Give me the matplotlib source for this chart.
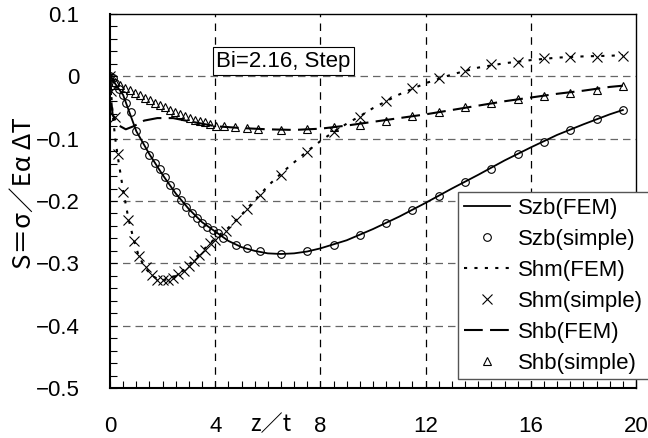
import matplotlib
matplotlib.use('Agg')
import matplotlib.pyplot as plt

plt.rcParams['font.family'] = ['Liberation Sans', 'Noto Sans CJK JP', 'DejaVu Sans']

# Szb: FEM curve and simple-method points
szb_fem_x = [0, 0.5, 1, 1.5, 2, 2.5, 3, 3.5, 4, 4.5, 5, 5.5, 6, 6.5, 7, 7.5, 8,
             9, 10, 11, 12, 13, 14, 15, 16, 17, 18, 19, 19.5]
szb_fem_y = [0, -0.030, -0.088, -0.125, -0.158, -0.188, -0.213, -0.234, -0.249,
             -0.264, -0.274, -0.280, -0.284, -0.285, -0.284, -0.281, -0.276,
             -0.263, -0.245, -0.225, -0.203, -0.180, -0.158, -0.135, -0.114,
             -0.094, -0.077, -0.061, -0.054]
szb_simple_x = [0, 0.1, 0.2, 0.35, 0.5, 0.6, 0.8, 1.0, 1.3, 1.5, 1.7, 1.9, 2.1,
                2.3, 2.5, 2.7, 2.9, 3.1, 3.3, 3.5, 3.7, 3.9, 4.1, 4.3, 4.8, 5.2,
                5.7, 6.5, 7.5, 8.5, 9.5, 10.5, 11.5, 12.5, 13.5, 14.5, 15.5,
                16.5, 17.5, 18.5, 19.5]
szb_simple_y = [0, -0.003, -0.010, -0.020, -0.030, -0.042, -0.057, -0.088,
                -0.110, -0.126, -0.139, -0.149, -0.161, -0.174, -0.186, -0.199,
                -0.209, -0.220, -0.228, -0.235, -0.241, -0.246, -0.251, -0.260,
                -0.271, -0.276, -0.281, -0.285, -0.280, -0.270, -0.254, -0.235,
                -0.215, -0.192, -0.169, -0.148, -0.125, -0.105, -0.086, -0.069,
                -0.054]

# Shm
shm_fem_x = [0, 0.05, 0.1, 0.2, 0.3, 0.5, 0.7, 0.9, 1.1, 1.35, 1.6, 1.9, 2.2,
             2.5, 2.8, 3.1, 3.4, 3.7, 4.0, 4.5, 5, 5.5, 6, 6.5, 7, 7.5, 8, 8.5,
             9, 9.5, 10, 11, 12, 13, 14, 15, 16, 17, 18, 19, 19.5]
shm_fem_y = [0, -0.030, -0.060, -0.100, -0.130, -0.183, -0.228, -0.262, -0.289,
             -0.308, -0.320, -0.327, -0.326, -0.320, -0.311, -0.298, -0.285,
             -0.272, -0.260, -0.243, -0.222, -0.199, -0.176, -0.156, -0.138,
             -0.120, -0.104, -0.089, -0.076, -0.064, -0.051, -0.029, -0.011,
             0.003, 0.014, 0.021, 0.026, 0.030, 0.032, 0.033, 0.034]
shm_simple_x = [0, 0.05, 0.2, 0.3, 0.5, 0.7, 0.9, 1.1, 1.35, 1.6, 1.8, 2.0, 2.2,
                2.4, 2.6, 2.8, 3.0, 3.2, 3.4, 3.6, 3.8, 4.0, 4.4, 4.8, 5.2, 5.7,
                6.5, 7.5, 8.5, 9.5, 10.5, 11.5, 12.5, 13.5, 14.5, 15.5, 16.5,
                17.5, 18.5, 19.5]
shm_simple_y = [0, -0.023, -0.065, -0.125, -0.185, -0.230, -0.264, -0.288,
                -0.306, -0.319, -0.326, -0.327, -0.326, -0.323, -0.317, -0.312,
                -0.304, -0.296, -0.287, -0.278, -0.268, -0.262, -0.248, -0.230,
                -0.213, -0.190, -0.158, -0.121, -0.089, -0.065, -0.039, -0.019,
                -0.003, 0.009, 0.019, 0.023, 0.030, 0.031, 0.031, 0.033]

# Shb
shb_fem_x = [0, 0.05, 0.1, 0.3, 0.6, 0.9, 1.3, 1.8, 2.4, 3, 3.5, 4, 5, 6, 7, 8,
             9, 10, 11, 12, 13, 14, 15, 16, 17, 18, 19, 19.5]
shb_fem_y = [0, -0.040, -0.062, -0.078, -0.085, -0.080, -0.071, -0.067, -0.067,
             -0.072, -0.076, -0.080, -0.083, -0.085, -0.086, -0.084, -0.079,
             -0.073, -0.067, -0.061, -0.054, -0.047, -0.040, -0.034, -0.028,
             -0.023, -0.017, -0.015]
shb_simple_x = [0, 0.19, 0.38, 0.57, 0.76, 0.95, 1.14, 1.33, 1.52, 1.71, 1.9,
                2.09, 2.28, 2.47, 2.66, 2.85, 3.04, 3.23, 3.42, 3.61, 3.8, 4.03,
                4.33, 4.75, 5.2, 5.64, 6.5, 7.5, 8.5, 9.5, 10.5, 11.5, 12.5, 13.5,
                14.5, 15.5, 16.5, 17.5, 18.5, 19.5]
shb_simple_y = [0, -0.009, -0.014, -0.018, -0.022, -0.026, -0.030, -0.034,
                -0.038, -0.042, -0.046, -0.050, -0.054, -0.057, -0.060, -0.064,
                -0.067, -0.070, -0.072, -0.074, -0.077, -0.079, -0.080, -0.082,
                -0.083, -0.084, -0.086, -0.085, -0.082, -0.078, -0.071, -0.064,
                -0.058, -0.050, -0.043, -0.037, -0.032, -0.026, -0.022, -0.015]

xticks = [0, 4, 8, 12, 16, 20]
yticks = [0.1, 0, -0.1, -0.2, -0.3, -0.4, -0.5]
ytick_labels = ['0.1', '0', '\u22120.1', '\u22120.2', '\u22120.3', '\u22120.4', '\u22120.5']

fig = plt.figure(figsize=(6.48, 4.38), dpi=100)
ax = fig.add_axes([110 / 648, 1 - 388 / 438, 526 / 648, 374 / 438])

ax.plot(szb_fem_x, szb_fem_y, color='black', lw=1.3, label='Szb(FEM)')
ax.plot(szb_simple_x, szb_simple_y, ls='none', marker='o', mfc='none', mec='black',
        ms=5.5, mew=0.8, label='Szb(simple)')
ax.plot(shm_fem_x, shm_fem_y, color='black', lw=1.5, ls=(0, (1.5, 3.5)), label='Shm(FEM)')
ax.plot(shm_simple_x, shm_simple_y, ls='none', marker='x', color='black',
        ms=6.5, mew=0.8, label='Shm(simple)')
ax.plot(shb_fem_x, shb_fem_y, color='black', lw=1.5, ls=(0, (9, 3.5)), label='Shb(FEM)')
ax.plot(shb_simple_x, shb_simple_y, ls='none', marker='^', mfc='none', mec='black',
        ms=6, mew=0.8, label='Shb(simple)')

ax.set_xlim(0, 20)
ax.set_ylim(-0.5, 0.1)
ax.set_xticks(xticks)
ax.set_yticks(yticks)
ax.set_yticklabels(ytick_labels)
ax.set_xticks([i * 0.5 for i in range(41)], minor=True)
ax.set_yticks([-0.5 + i * 0.02 for i in range(31)], minor=True)
ax.tick_params(axis='x', which='major', direction='in', length=5, labelsize=16, pad=20)
ax.tick_params(axis='y', which='major', direction='in', length=5, labelsize=16, pad=22)
ax.tick_params(which='minor', direction='in', length=5, width=0.8)

# dashed grid: vertical black, horizontal grey
for xv in xticks[1:-1]:
    ax.axvline(xv, color='black', lw=0.9, ls=(0, (6, 5)), zorder=0)
for yv in yticks[1:-1]:
    ax.axhline(yv, color='#666666', lw=0.9, ls=(0, (6, 4)), zorder=0)

for s in ['left', 'bottom']:
    ax.spines[s].set_linewidth(1.5)
ax.spines['top'].set_linewidth(1.0)
ax.spines['right'].set_linewidth(1.0)

ax.set_ylabel('S＝σ／Eα ΔT', family=['Noto Sans CJK JP', 'DejaVu Sans'], fontsize=18.5)
ax.yaxis.set_label_coords(-0.14, 0.52)
ax.set_xlabel('z／t', family=['Noto Sans CJK JP', 'DejaVu Sans'], fontsize=16, va='center')
ax.xaxis.set_label_coords(6.1 / 20, -0.097)

ax.text(6.58, 0.0245, 'Bi=2.16, Step', fontsize=16, ha='center', va='center',
        bbox=dict(boxstyle='square,pad=0.15', fc='white', ec='black', lw=0.8))

leg = ax.legend(loc='upper left', bbox_to_anchor=(458 / 648, 1 - 192 / 438),
                bbox_transform=fig.transFigure, fontsize=16, frameon=True,
                fancybox=False, edgecolor='#555555', framealpha=1,
                handlelength=2.1, handletextpad=0.35, labelspacing=0.45,
                borderpad=0.25, borderaxespad=0)
leg.get_frame().set_linewidth(1.0)

fig.savefig('out.png', dpi=100)
